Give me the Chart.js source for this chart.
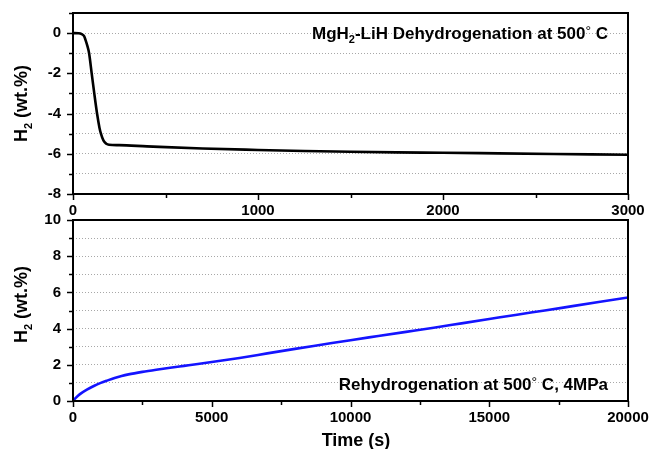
<!DOCTYPE html>
<html>
<head>
<meta charset="utf-8">
<script src="https://cdn.jsdelivr.net/npm/chart.js@4"></script>
<style>
  body { margin: 0; background: #fff; }
  #wrap { position: relative; width: 657px; height: 449px; }
  canvas { position: absolute; left: 0; }
  #top { top: 0; }
  #bottom { top: 200px; }
</style>
</head>
<body>
<div id="wrap">
  <canvas id="top" width="657" height="225"></canvas>
  <canvas id="bottom" width="657" height="249"></canvas>
</div>
<script>
// dehydrogenation run (s, wt.%)
const dehydTime = [0, 30, 47, 60, 68, 78, 87, 101, 115, 130, 143, 151, 165, 180, 195, 250, 400, 700, 1000, 1250, 1500, 1750, 2000, 2300, 2600, 3000];
const dehydH2 = [0, -0.01, -0.05, -0.15, -0.35, -0.65, -1.0, -2.0, -3.0, -4.0, -4.7, -5.0, -5.35, -5.5, -5.55, -5.57, -5.63, -5.74, -5.81, -5.86, -5.9, -5.93, -5.95, -5.98, -6.01, -6.05];

// rehydrogenation run (s, wt.%)
const rehydTime = [0, 100, 250, 500, 750, 1000, 1250, 1500, 1750, 2000, 2500, 3000, 3500, 4000, 4500, 5000, 6000, 7000, 8000, 9000, 10000, 11000, 12000, 13000, 14000, 15000, 16000, 17000, 18000, 19000, 20000];
const rehydH2 = [0, 0.17, 0.38, 0.63, 0.83, 1.0, 1.14, 1.27, 1.38, 1.47, 1.61, 1.73, 1.84, 1.94, 2.04, 2.15, 2.38, 2.63, 2.88, 3.12, 3.36, 3.59, 3.82, 4.05, 4.29, 4.53, 4.77, 5.0, 5.24, 5.48, 5.72];

const FONT = "'Liberation Sans', Arial, sans-serif";
Chart.defaults.font.family = FONT;
Chart.defaults.font.weight = 'bold';
Chart.defaults.color = '#000';

function toPoints(xs, ys) {
  return xs.map((x, i) => ({ x: x, y: ys[i] }));
}

// text with sub/superscript pieces: parts = [[text, 'n' | 'sub' | 'deg'], ...]
function drawRich(ctx, parts, x, y, size, align) {
  const small = Math.round(size * 0.62);
  const fontOf = p => {
    if (p[1] === 'n') return 'bold ' + size + 'px ' + FONT;
    if (p[1] === 'deg') return Math.round(size * 0.8) + 'px ' + FONT;
    return 'bold ' + small + 'px ' + FONT;
  };
  ctx.save();
  ctx.textBaseline = 'alphabetic';
  ctx.textAlign = 'left';
  ctx.fillStyle = '#000';
  let total = 0;
  const widths = parts.map(p => {
    ctx.font = fontOf(p);
    const w = ctx.measureText(p[0]).width;
    total += w;
    return w;
  });
  let cx = align === 'right' ? x - total : align === 'center' ? x - total / 2 : x;
  parts.forEach((p, i) => {
    ctx.font = fontOf(p);
    let dy = 0;
    if (p[1] === 'sub') dy = size * 0.25;
    if (p[1] === 'deg') dy = -size * 0.2;
    ctx.fillText(p[0], cx, y + dy);
    cx += widths[i];
  });
  ctx.restore();
}

const yTitle = [['H', 'n'], ['2', 'sub'], [' (wt.%)', 'n']];

// frame round the plot and outward tick marks (long for labelled ticks)
const frameTicks = {
  id: 'frameTicks',
  afterDraw(chart) {
    const ctx = chart.ctx;
    const a = chart.chartArea;
    ctx.save();
    ctx.strokeStyle = '#000';
    ctx.lineWidth = 1.5;
    ['x', 'y'].forEach(id => {
      const s = chart.scales[id];
      s.ticks.forEach(t => {
        const len = t.label !== '' ? 6 : 4;
        const p = Math.round(s.getPixelForValue(t.value)) + 0.5;
        ctx.beginPath();
        if (id === 'x') {
          ctx.moveTo(p, a.bottom);
          ctx.lineTo(p, a.bottom + len);
        } else {
          ctx.moveTo(a.left, p);
          ctx.lineTo(a.left - len, p);
        }
        ctx.stroke();
      });
    });
    ctx.lineWidth = 2;
    ctx.strokeRect(a.left, a.top, a.right - a.left, a.bottom - a.top);
    ctx.restore();
  }
};

// labels drawn on each panel
const panelText = {
  id: 'panelText',
  afterDraw(chart, args, opts) {
    const ctx = chart.ctx;
    const a = chart.chartArea;
    drawRich(ctx, opts.note, opts.noteX, opts.noteY, 17, 'right');
    ctx.save();
    ctx.translate(27, (a.top + a.bottom) / 2 + opts.titleShift);
    ctx.rotate(-Math.PI / 2);
    drawRich(ctx, yTitle, 0, 0, 18, 'center');
    ctx.restore();
    if (opts.xTitle) {
      drawRich(ctx, [[opts.xTitle, 'n']], opts.xTitleX, opts.xTitleY, 18, 'center');
    }
  }
};

function makeChart(el, pts, color, xs, ys, extra) {
  return new Chart(el, {
    type: 'line',
    data: {
      datasets: [{
        data: pts,
        borderColor: color,
        borderWidth: 2.6,
        pointRadius: 0,
        fill: false,
        cubicInterpolationMode: 'monotone'
      }]
    },
    options: {
      responsive: false,
      animation: false,
      layout: { padding: extra.padding },
      plugins: {
        legend: { display: false },
        tooltip: { enabled: false },
        panelText: extra.text
      },
      scales: {
        x: {
          type: 'linear',
          min: xs.min, max: xs.max,
          grid: { display: false, drawTicks: false },
          border: { display: false },
          afterFit(s) {
            s.height = extra.xHeight;
            s.paddingLeft = 0;
            s.paddingRight = 0;
          },
          ticks: {
            stepSize: xs.step,
            autoSkip: false,
            maxRotation: 0,
            padding: 8,
            font: { size: 15, weight: 'bold' },
            callback: v => (v % xs.labelEvery === 0 ? String(v) : '')
          }
        },
        y: {
          type: 'linear',
          min: ys.min, max: ys.max,
          grid: { color: '#a8a8a8', lineWidth: 1, drawTicks: false },
          border: { display: false, dash: [1, 2] },
          afterFit(s) {
            s.width = 73;
            s.paddingTop = 0;
            s.paddingBottom = 0;
          },
          ticks: {
            stepSize: 1,
            autoSkip: false,
            padding: 12,
            font: { size: 15, weight: 'bold' },
            callback: v => (v % 2 === 0 ? String(v) : '')
          }
        }
      }
    },
    plugins: [frameTicks, panelText]
  });
}

makeChart(document.getElementById('top'), toPoints(dehydTime, dehydH2), '#000000',
  { min: 0, max: 3000, step: 500, labelEvery: 1000 },
  { min: -8, max: 1 },
  {
    padding: { top: 13, right: 29, left: 0, bottom: 0 },
    xHeight: 31,
    text: {
      note: [['MgH', 'n'], ['2', 'sub'], ['-LiH Dehydrogenation at 500', 'n'], ['°', 'deg'], [' C', 'n']],
      noteX: 608, noteY: 39, titleShift: 0
    }
  });

makeChart(document.getElementById('bottom'), toPoints(rehydTime, rehydH2), '#1414ff',
  { min: 0, max: 20000, step: 2500, labelEvery: 5000 },
  { min: 0, max: 10 },
  {
    padding: { top: 20, right: 29, left: 0, bottom: 0 },
    xHeight: 48,
    text: {
      note: [['Rehydrogenation at 500', 'n'], ['°', 'deg'], [' C, 4MPa', 'n']],
      noteX: 608, noteY: 190, titleShift: -6,
      xTitle: 'Time (s)', xTitleX: 356, xTitleY: 246
    }
  });
</script>
</body>
</html>
